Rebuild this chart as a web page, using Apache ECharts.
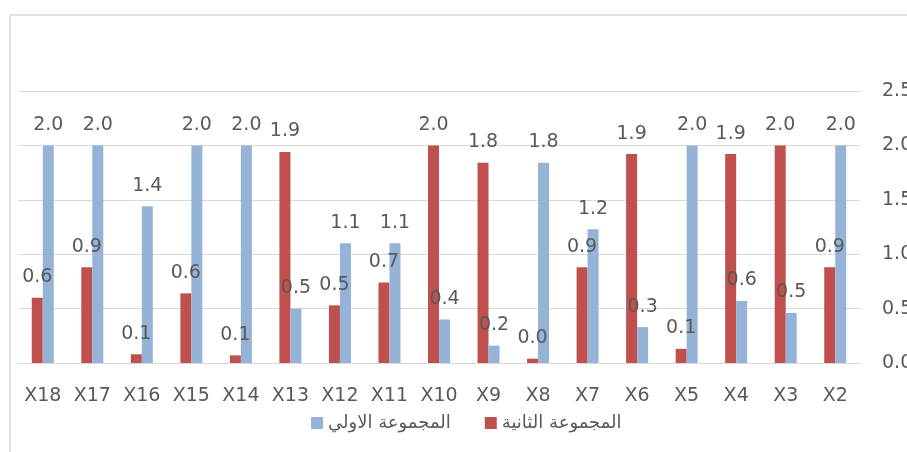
<!DOCTYPE html>
<html><head><meta charset="utf-8">
<script src="https://cdn.jsdelivr.net/npm/echarts@6/dist/echarts.min.js"></script>
<style>html,body{margin:0;padding:0;background:#fff}#c{width:907px;height:452px}</style>
</head><body><div id="c"></div>
<script>
const categories = ['X18','X17','X16','X15','X14','X13','X12','X11','X10','X9','X8','X7','X6','X5','X4','X3','X2'];
const seriesRedName = 'المجموعة الثانية';
const seriesBlueName = 'المجموعة الاولي';
const redValues  = [0.60, 0.88, 0.08, 0.64, 0.07, 1.94, 0.53, 0.74, 2.00, 1.84, 0.04, 0.88, 1.92, 0.13, 1.92, 2.00, 0.88];
const blueValues = [2.00, 2.00, 1.44, 2.00, 2.00, 0.50, 1.10, 1.10, 0.40, 0.16, 1.84, 1.23, 0.33, 2.00, 0.57, 0.46, 2.00];
const yTicks = [0, 0.5, 1, 1.5, 2, 2.5];

const FONT = 'DejaVu Sans';
const chart = echarts.init(document.getElementById('c'), null, {renderer:'canvas'});
const lbl = {show:true, position:'top', distance:11, color:'#595959', fontFamily:FONT, fontSize:19,
  formatter: p => p.value.toFixed(1)};
chart.setOption({
  animation:false,
  graphic:[{type:'rect', shape:{x:10,y:15,width:1000,height:500}, style:{fill:'none', stroke:'#D9D9D9', lineWidth:1.5}, silent:true}],
  grid:{left:18, right:47, top:91, bottom:89, containLabel:false, outerBoundsMode:'none'},
  legend:{data:[seriesBlueName, seriesRedName], left:306, top:409, itemWidth:12, itemHeight:12, itemGap:34,
    icon:'rect', textStyle:{color:'#595959', fontFamily:FONT, fontSize:18}},
  xAxis:{type:'category', data:categories,
    axisLine:{show:true, lineStyle:{color:'#D9D9D9', width:1}}, axisTick:{show:false},
    axisLabel:{color:'#595959', fontFamily:FONT, fontSize:19, margin:24}},
  yAxis:{type:'value', position:'right', min:yTicks[0], max:yTicks[yTicks.length-1], interval:0.5,
    axisLine:{show:false}, axisTick:{show:false},
    splitLine:{lineStyle:{color:'#D9D9D9', width:1}},
    axisLabel:{color:'#595959', fontFamily:FONT, fontSize:19, margin:22, formatter: v => v.toFixed(1)}},
  series:[
    {name:seriesRedName, type:'bar', data:redValues, barWidth:11, barGap:'0%', itemStyle:{color:'#C0504D'}, label:lbl},
    {name:seriesBlueName, type:'bar', data:blueValues, barWidth:11, barGap:'0%', itemStyle:{color:'#95B3D7'}, label:lbl}
  ]
});
</script></body></html>
